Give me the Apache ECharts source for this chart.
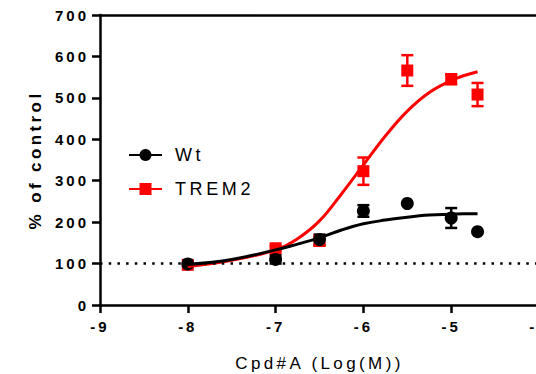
<!DOCTYPE html>
<html>
<head>
<meta charset="utf-8">
<script src="https://cdn.jsdelivr.net/npm/echarts@6/dist/echarts.min.js"></script>
<style>
  html, body { margin: 0; padding: 0; background: #fff; }
  #chart { width: 536px; height: 374px; }
  /* the reference uses wide tracking on every label */
  #chart text { letter-spacing: 0.2em; }
</style>
</head>
<body>
<div id="chart"></div>
<script>
// measured points (log M dose)
const doses = [-8, -7, -6.5, -6, -5.5, -5, -4.7]
const wtMean = [99, 110, 158, 227, 245, 210, 177]
const wtErr = [0, 10, 12, 14, 0, 24, 0]
const tremMean = [97, 137, 155, 323, 566, 545, 508]
const tremErr = [0, 6, 12, 33, 37, 12, 28]

// fitted curves
const fitX = [-8, -7.5, -7, -6.75, -6.5, -6.25, -6, -5.75, -5.5, -5.25, -5, -4.85, -4.7]
const wtFit = [98, 110, 133, 147, 162, 181, 196, 205, 212, 217, 219, 220, 220]
const tremFit = [93, 108, 133, 160, 203, 268, 338, 408, 468, 513, 542, 554, 563]

const xTicks = [-9, -8, -7, -6, -5, -4]
const baseline = 100

const BLACK = '#000000'
const RED = '#ff0000'
const FONT = '"Liberation Sans", Arial, sans-serif'

const chart = echarts.init(document.getElementById('chart'), null, { renderer: 'svg' })

function pairs(xs, ys) {
    return xs.map((x, i) => [x, ys[i]])
}

function errData(mean, err) {
    return doses
        .map((d, i) => [d, mean[i] - err[i], mean[i] + err[i]])
        .filter((d, i) => err[i] > 0)
}

function errorBars(color) {
    return function (params, api) {
        const x = api.value(0)
        const top = api.coord([x, api.value(2)])
        const bot = api.coord([x, api.value(1)])
        const hw = 6
        const style = { stroke: color, lineWidth: 2.5 }
        return {
            type: 'group',
            children: [
                { type: 'line', shape: { x1: top[0], y1: top[1], x2: bot[0], y2: bot[1] }, style },
                { type: 'line', shape: { x1: top[0] - hw, y1: top[1], x2: top[0] + hw, y2: top[1] }, style },
                { type: 'line', shape: { x1: bot[0] - hw, y1: bot[1], x2: bot[0] + hw, y2: bot[1] }, style },
            ],
        }
    }
}

const axisLine = { show: true, lineStyle: { color: BLACK, width: 2.5 } }
const axisTick = { show: true, length: 8, lineStyle: { color: BLACK, width: 2.5 } }
const tickLabel = { color: BLACK, fontFamily: FONT, fontWeight: 'bold', fontSize: 15 }

const option = {
    animation: false,
    grid: { left: 100, right: -3, top: 15, bottom: 69, outerBoundsMode: 'none', containLabel: false },
    legend: {
        data: ['Wt', 'TREM2'],
        orient: 'vertical',
        left: 123,
        top: 140,
        itemWidth: 33,
        itemHeight: 15,
        itemGap: 14,
        textStyle: { color: BLACK, fontFamily: FONT, fontSize: 18, lineHeight: 20, padding: [0, 0, 0, 8] },
    },
    xAxis: [
        {
            type: 'value',
            min: xTicks[0],
            max: xTicks[xTicks.length - 1],
            interval: 1,
            name: 'Cpd#A (Log(M))',
            nameLocation: 'middle',
            nameGap: 50,
            nameTextStyle: { color: BLACK, fontFamily: FONT, fontSize: 17 },
            axisLine,
            axisTick,
            axisLabel: { ...tickLabel, margin: 14 },
            splitLine: { show: false },
        },
        {
            type: 'value',
            position: 'top',
            min: xTicks[0],
            max: xTicks[xTicks.length - 1],
            axisLine,
            axisTick: { show: false },
            axisLabel: { show: false },
            splitLine: { show: false },
        },
    ],
    yAxis: {
        type: 'value',
        min: 0,
        max: 700,
        interval: 100,
        name: '% of control',
        nameLocation: 'middle',
        nameGap: 56,
        nameTextStyle: { color: BLACK, fontFamily: FONT, fontSize: 17, fontWeight: 'bold' },
        axisLine,
        axisTick,
        axisLabel: { ...tickLabel, margin: 11 },
        splitLine: { show: false },
    },
    series: [
        {
            name: 'TREM2 err',
            type: 'custom',
            renderItem: errorBars(RED),
            encode: { x: 0, y: [1, 2] },
            data: errData(tremMean, tremErr),
        },
        {
            name: 'TREM2',
            type: 'line',
            smooth: 0.4,
            symbol: 'rect',
            showSymbol: false,
            color: RED,
            itemStyle: { color: RED, opacity: 1 },
            lineStyle: { color: RED, width: 3 },
            data: pairs(fitX, tremFit),
            markLine: {
                silent: true,
                symbol: 'none',
                label: { show: false },
                lineStyle: { color: BLACK, width: 2.5, type: [2.5, 6.2], opacity: 1 },
                data: [[{ coord: [xTicks[0], baseline] }, { coord: [xTicks[xTicks.length - 1], baseline] }]],
            },
        },
        {
            name: 'TREM2 pts',
            type: 'scatter',
            symbol: 'rect',
            symbolSize: 12,
            itemStyle: { color: RED, opacity: 1 },
            data: pairs(doses, tremMean),
        },
        {
            name: 'Wt err',
            type: 'custom',
            renderItem: errorBars(BLACK),
            encode: { x: 0, y: [1, 2] },
            data: errData(wtMean, wtErr),
        },
        {
            name: 'Wt',
            type: 'line',
            smooth: 0.4,
            symbol: 'circle',
            showSymbol: false,
            color: BLACK,
            itemStyle: { color: BLACK, opacity: 1 },
            lineStyle: { color: BLACK, width: 3 },
            data: pairs(fitX, wtFit),
        },
        {
            name: 'Wt pts',
            type: 'scatter',
            symbol: 'circle',
            symbolSize: 13,
            itemStyle: { color: BLACK, opacity: 1 },
            data: pairs(doses, wtMean),
        },
    ],
}

chart.setOption(option)
</script>
</body>
</html>
